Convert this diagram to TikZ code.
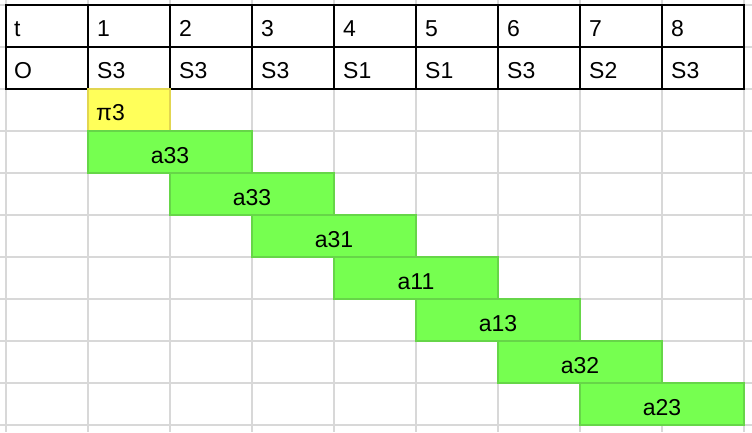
\documentclass[tikz,border=0pt]{standalone}
\usepackage{fontspec}
\setmainfont{Liberation Sans}
\definecolor{gridgray}{RGB}{216,216,216}
\definecolor{barfill}{RGB}{118,255,80}
\definecolor{barline}{RGB}{102,214,72}
\definecolor{piefill}{RGB}{255,255,90}
\definecolor{pieline}{RGB}{226,214,80}
\tikzset{
    head/.style={anchor=base west, inner sep=0pt, font=\fontsize{23}{27}\selectfont},
    bar/.style={draw=barline, fill=barfill, line width=1.5pt, inner sep=0pt,
        text height=22pt, text depth=0pt,
        minimum width=164pt, minimum height=42pt, font=\fontsize{23}{27}\selectfont},
    start/.style={draw=pieline, fill=piefill, line width=1.5pt, inner sep=0pt,
        minimum width=82pt, minimum height=42pt}
}
\begin{document}
\begin{tikzpicture}[x=1pt, y=-1pt]
    \useasboundingbox (0, 0) rectangle (752, 432);

    % spreadsheet grid
    \foreach \c in {0,...,9}
        \draw[gridgray, line width=2pt] (6+82*\c, 0) -- (6+82*\c, 432);
    \foreach \r in {0,...,10}
        \draw[gridgray, line width=2pt] (0, 5+42*\r) -- (752, 5+42*\r);

    % header table
    \draw[line width=2pt] (6, 5) rectangle (744, 89);
    \draw[line width=2pt] (6, 47) -- (744, 47);
    \foreach \c in {1,...,8}
        \draw[line width=2pt] (6+82*\c, 5) -- (6+82*\c, 89);

    \node[head] (t0) at (14, 36) {t};
    \node[head] (o0) at (14, 78) {O};
    \foreach \c/\s in {1/S3, 2/S3, 3/S3, 4/S1, 5/S1, 6/S3, 7/S2, 8/S3} {
        \node[head] (t\c) at (6+82*\c+9, 36) {\c};
        \node[head] (o\c) at (6+82*\c+9, 78) {\s};
    }

    % initial state
    \node[start] (pi) at (129, 110) {};
    \node[head] (pilabel) at (96, 120) {π3};

    % transitions
    \foreach \i/\lab in {1/a33, 2/a33, 3/a31, 4/a11, 5/a13, 6/a32, 7/a23}
        \node[bar] (bar\i) at (6+82*\i+82, 5+42*\i+105) {\lab};
\end{tikzpicture}
\end{document}
